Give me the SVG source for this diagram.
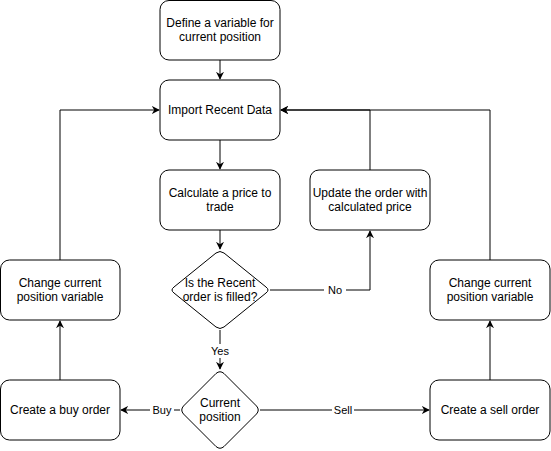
<svg xmlns="http://www.w3.org/2000/svg" width="551" height="451" viewBox="0 0 551 451">
<style>
.box{fill:#fff;stroke:#000;stroke-width:1}
.t{font-family:"Liberation Sans",Arial,sans-serif;font-size:12px;text-anchor:middle;fill:#000}
.l{font-family:"Liberation Sans",Arial,sans-serif;font-size:11px;text-anchor:middle;fill:#000}
.e{fill:none;stroke:#000;stroke-width:1}
</style>
<defs>
<marker id="a" viewBox="0 0 10 10" refX="9" refY="5" markerWidth="8" markerHeight="8" markerUnits="userSpaceOnUse" orient="auto">
<path d="M0,0 L10,5 L0,10 L3,5 Z" fill="#000"/>
</marker>
</defs>
<rect width="551" height="451" fill="#fff"/>
<g id="connectors">
<path class="e" d="M220,60 V79" marker-end="url(#a)"/>
<path class="e" d="M220,140 V169" marker-end="url(#a)"/>
<path class="e" d="M220,230 V249" marker-end="url(#a)"/>
<path class="e" d="M270,290 H370 V231" marker-end="url(#a)"/>
<path class="e" d="M370,170 V110 H281" marker-end="url(#a)"/>
<path class="e" d="M220,330 V369" marker-end="url(#a)"/>
<path class="e" d="M180,410 H121" marker-end="url(#a)"/>
<path class="e" d="M260,410 H429" marker-end="url(#a)"/>
<path class="e" d="M60,380 V321" marker-end="url(#a)"/>
<path class="e" d="M60,260 V110 H159" marker-end="url(#a)"/>
<path class="e" d="M490,380 V321" marker-end="url(#a)"/>
<path class="e" d="M490,260 V110 H281" marker-end="url(#a)"/>
<rect x="324" y="283" width="22" height="14" fill="#fff"/>
<text class="l" x="335" y="294">No</text>
<rect x="209" y="344" width="22" height="14" fill="#fff"/>
<text class="l" x="220" y="355">Yes</text>
<rect x="150" y="403" width="24" height="14" fill="#fff"/>
<text class="l" x="162" y="414">Buy</text>
<rect x="332" y="403" width="22" height="14" fill="#fff"/>
<text class="l" x="343" y="414">Sell</text>
</g>
<g id="define">
<rect class="box" x="160" y="0.5" width="120" height="59.5" rx="9"/>
<text class="t" x="220" y="27">Define a variable for</text>
<text class="t" x="220" y="41">current position</text>
</g>
<g id="import">
<rect class="box" x="160" y="80" width="120" height="60" rx="9"/>
<text class="t" x="220" y="114">Import Recent Data</text>
</g>
<g id="calculate">
<rect class="box" x="160" y="170" width="120" height="60" rx="9"/>
<text class="t" x="220" y="197">Calculate a price to</text>
<text class="t" x="220" y="211">trade</text>
</g>
<g id="filled">
<path class="box" d="M216,253 Q220,250 224,253 L266,287 Q270,290 266,293 L224,327 Q220,330 216,327 L174,293 Q170,290 174,287 Z"/>
<text class="t" x="220" y="287">Is the Recent</text>
<text class="t" x="220" y="301">order is filled?</text>
</g>
<g id="update">
<rect class="box" x="310" y="170" width="120" height="60" rx="9"/>
<text class="t" x="370" y="197">Update the order with</text>
<text class="t" x="370" y="211">calculated price</text>
</g>
<g id="position">
<path class="box" d="M216,373.5 Q220,370 224,373.5 L256.5,406 Q260,410 256.5,414 L224,446.5 Q220,450 216,446.5 L183.5,414 Q180,410 183.5,406 Z"/>
<text class="t" x="220" y="407">Current</text>
<text class="t" x="220" y="421">position</text>
</g>
<g id="buy">
<rect class="box" x="0.5" y="380" width="119.5" height="60" rx="9"/>
<text class="t" x="60" y="414">Create a buy order</text>
</g>
<g id="changeLeft">
<rect class="box" x="0.5" y="260" width="119.5" height="60" rx="9"/>
<text class="t" x="60" y="287">Change current</text>
<text class="t" x="60" y="301">position variable</text>
</g>
<g id="sell">
<rect class="box" x="430" y="380" width="120" height="60" rx="9"/>
<text class="t" x="490" y="414">Create a sell order</text>
</g>
<g id="changeRight">
<rect class="box" x="430" y="260" width="120" height="60" rx="9"/>
<text class="t" x="490" y="287">Change current</text>
<text class="t" x="490" y="301">position variable</text>
</g>
</svg>
